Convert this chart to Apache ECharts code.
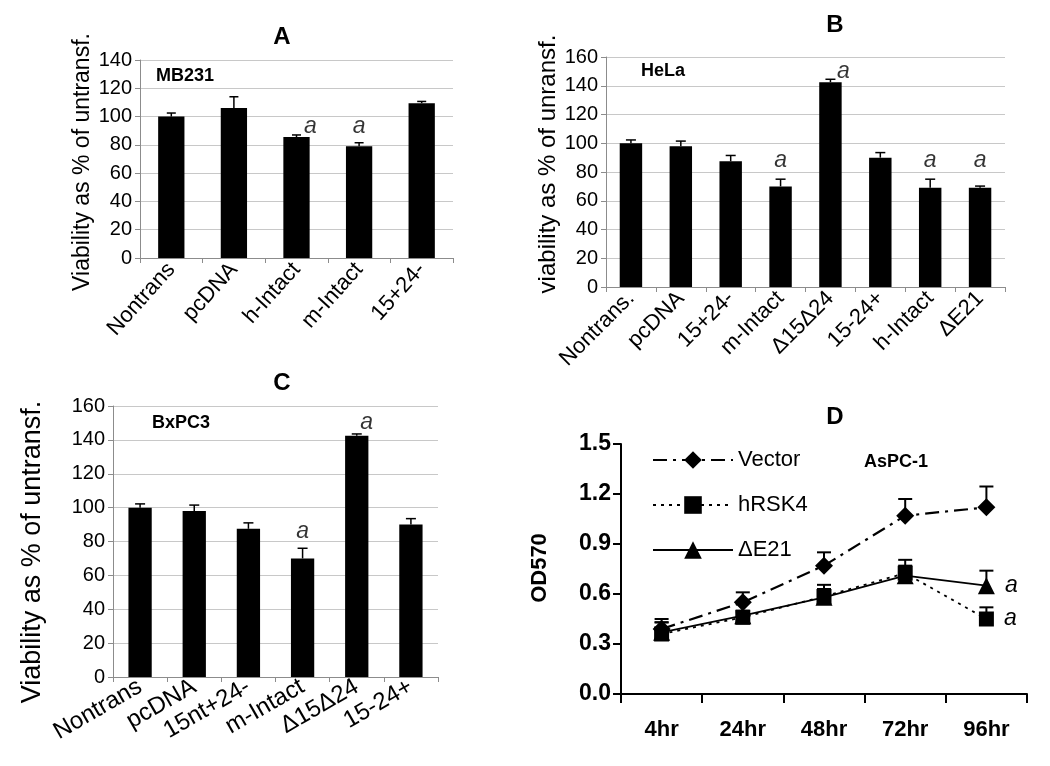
<!DOCTYPE html>
<html>
<head>
<meta charset="utf-8">
<script src="https://cdn.jsdelivr.net/npm/echarts@6/dist/echarts.min.js"></script>
<style>
  html, body { margin: 0; padding: 0; background: #fff; }
  #chart { width: 1050px; height: 766px; }
</style>
</head>
<body>
<div id="chart"></div>
<script>
// panel A - MB231
const catsA = ['Nontrans', 'pcDNA', 'h-Intact', 'm-Intact', '15+24-']
const valsA = [100, 106, 85.5, 79, 109.5]
const errA = [2.5, 8, 1.5, 2.5, 1.2]
// significance marks: [category, height on the y scale]
const sigA = [['h-Intact', 93], ['m-Intact', 93]]

// panel B - HeLa
const catsB = ['Nontrans.', 'pcDNA', '15+24-', 'm-Intact', '\u039415\u039424', '15-24+', 'h-Intact', '\u0394E21']
const valsB = [100, 98, 87.5, 70, 142.5, 90, 69, 69]
const errB = [2.3, 3.5, 4, 5, 2, 3.5, 6, 1.2]
const sigB = [['m-Intact', 88], ['\u039415\u039424', 150], ['h-Intact', 88], ['\u0394E21', 88]]

// panel C - BxPC3
const catsC = ['Nontrans', 'pcDNA', '15nt+24-', 'm-Intact', '\u039415\u039424', '15-24+']
const valsC = [100, 98, 87.5, 70, 142.5, 90]
const errC = [2.2, 3.5, 3.5, 6, 1, 3.5]
const sigC = [['m-Intact', 86], ['\u039415\u039424', 150]]

// panel D - AsPC-1 growth
const hours = ['4hr', '24hr', '48hr', '72hr', '96hr']
const vector = [0.39, 0.55, 0.77, 1.07, 1.12]
const vectorErr = [0.06, 0.06, 0.08, 0.10, 0.125]
const hrsk4 = [0.36, 0.46, 0.585, 0.725, 0.45]
const hrsk4Err = [0.07, 0.03, 0.07, 0.08, 0.07]
const de21 = [0.37, 0.47, 0.58, 0.71, 0.65]
const de21Err = [0.06, 0.03, 0.05, 0.06, 0.09]

const FONT = 'Liberation Sans, Arial, sans-serif'

const chart = echarts.init(document.getElementById('chart'))

function errorBars(capW, lw) {
  return function (params, api) {
    const i = api.value(0)
    const v = api.value(1)
    const e = api.value(2)
    const p0 = api.coord([i, v])
    const p1 = api.coord([i, v + e])
    const st = { stroke: '#000', lineWidth: lw }
    return {
      type: 'group',
      children: [
        { type: 'line', shape: { x1: p0[0], y1: p0[1], x2: p1[0], y2: p1[1] }, style: st },
        { type: 'line', shape: { x1: p1[0] - capW / 2, y1: p1[1], x2: p1[0] + capW / 2, y2: p1[1] }, style: st }
      ]
    }
  }
}

function errData(vals, errs) {
  return vals.map((v, i) => [i, v, errs[i]])
}

// grey excel style category axis
function barX(idx, cats, rotate, size) {
  return {
    type: 'category', gridIndex: idx, data: cats,
    axisLine: { lineStyle: { color: '#8c8c8c' } },
    axisTick: { show: true, length: 5, lineStyle: { color: '#8c8c8c' } },
    axisLabel: { rotate: rotate, color: '#000', fontSize: size, fontFamily: FONT, margin: 8, interval: 0 }
  }
}

function barY(idx, max) {
  return {
    type: 'value', gridIndex: idx, min: 0, max: max, interval: 20,
    axisLine: { show: true, lineStyle: { color: '#8c8c8c' } },
    axisTick: { show: true, length: 5, lineStyle: { color: '#8c8c8c' } },
    axisLabel: { color: '#000', fontSize: 20, fontFamily: FONT, margin: 8 },
    splitLine: { lineStyle: { color: '#c8c8c8' } }
  }
}

function barSeries(idx, vals, gapPct) {
  return {
    type: 'bar', xAxisIndex: idx, yAxisIndex: idx, data: vals,
    barCategoryGap: gapPct, itemStyle: { color: '#000' }, silent: true
  }
}

function errSeries(idx, vals, errs, capW) {
  return {
    type: 'custom', xAxisIndex: idx, yAxisIndex: idx, z: 5,
    renderItem: errorBars(capW, 1.5), data: errData(vals, errs), silent: true
  }
}

// italic "a" marks above the flagged bars
function sigSeries(idx, cats, sig, shifts) {
  return {
    type: 'scatter', xAxisIndex: idx, yAxisIndex: idx, symbolSize: 1,
    itemStyle: { color: 'rgba(0,0,0,0)' }, silent: true, z: 6,
    data: sig.map(s => ({
      value: [cats.indexOf(s[0]), s[1]],
      label: { offset: [shifts[s[0]] || 0, 0] }
    })),
    label: {
      show: true, position: 'inside', formatter: 'a', color: '#000',
      fontSize: 23, fontStyle: 'italic', fontFamily: FONT
    }
  }
}

const lineLabelA = { show: true, position: 'right', distance: 10, formatter: 'a', color: '#000', fontSize: 23, fontStyle: 'italic', fontFamily: FONT }

function growthSeries(name, vals, symbol, size, lineType, lw) {
  return {
    name: name, type: 'line', xAxisIndex: 3, yAxisIndex: 3,
    data: vals.map((v, i) => i === vals.length - 1 && name !== 'Vector'
      ? { value: v, label: lineLabelA } : v),
    symbol: symbol, symbolSize: size, showAllSymbol: true,
    itemStyle: { color: '#000' },
    lineStyle: { color: '#000', width: lw, type: lineType },
    label: { show: false }, silent: true, z: 3
  }
}

function growthErr(vals, errs) {
  return {
    type: 'custom', xAxisIndex: 3, yAxisIndex: 3, z: 2,
    renderItem: errorBars(14, 2), data: errData(vals, errs), silent: true
  }
}

function txt(text, x, y, size, opts) {
  return Object.assign({
    type: 'text', x: x, y: y,
    style: {
      text: text, align: 'center', verticalAlign: 'middle',
      font: (opts && opts.bold ? 'bold ' : '') + size + 'px ' + FONT, fill: '#000'
    }
  }, opts && opts.rot ? { rotation: Math.PI / 2 } : {})
}

const option = {
  backgroundColor: '#fff',
  animation: false,
  textStyle: { fontFamily: FONT },
  grid: [
    { left: 140, top: 60, width: 313, height: 198 },
    { left: 606, top: 57, width: 399, height: 230 },
    { left: 113, top: 406, width: 325, height: 271 },
    { left: 621, top: 444, width: 406, height: 250 }
  ],
  legend: {
    data: ['Vector', 'hRSK4', '\u0394E21'],
    orient: 'vertical', left: 647, top: 444,
    itemWidth: 80, itemHeight: 22, itemGap: 23,
    textStyle: { color: '#000', fontSize: 22, fontFamily: FONT },
    selectedMode: false
  },
  xAxis: [
    barX(0, catsA, 48, 22),
    barX(1, catsB, 45, 22),
    barX(2, catsC, 30, 24),
    {
      type: 'category', gridIndex: 3, data: hours,
      axisLine: { lineStyle: { color: '#000', width: 2 } },
      axisTick: { show: true, length: 9, lineStyle: { color: '#000', width: 2 } },
      axisLabel: { color: '#000', fontSize: 22, fontWeight: 'bold', fontFamily: FONT, margin: 25 }
    }
  ],
  yAxis: [
    barY(0, 140),
    barY(1, 160),
    barY(2, 160),
    {
      type: 'value', gridIndex: 3, min: 0, max: 1.5, interval: 0.3,
      axisLine: { show: true, lineStyle: { color: '#000', width: 2 } },
      axisTick: { show: true, length: 8, lineStyle: { color: '#000', width: 2 } },
      axisLabel: { color: '#000', fontSize: 23, fontWeight: 'bold', fontFamily: FONT, margin: 10,
        formatter: v => v.toFixed(1) },
      splitLine: { show: false }
    }
  ],
  graphic: [
    txt('A', 282, 37, 24, { bold: true }),
    txt('B', 835, 25, 24, { bold: true }),
    txt('C', 282, 383, 24, { bold: true }),
    txt('D', 835, 417, 24, { bold: true }),
    txt('MB231', 185, 76, 18, { bold: true }),
    txt('HeLa', 663, 71, 18, { bold: true }),
    txt('BxPC3', 181, 423, 18, { bold: true }),
    txt('AsPC-1', 896, 462, 18, { bold: true }),
    // y axis titles
    txt('Viability as % of untransf.', 83, 162, 23, { rot: true }),
    txt('viability as % of unransf.', 548, 164, 24, { rot: true }),
    txt('Viability as % of untransf.', 33, 552, 27, { rot: true }),
    txt('OD570', 540, 568, 22, { rot: true, bold: true })
  ],
  series: [
    barSeries(0, valsA, '58%'),
    errSeries(0, valsA, errA, 9),
    sigSeries(0, catsA, sigA, { 'h-Intact': 14 }),
    barSeries(1, valsB, '55%'),
    errSeries(1, valsB, errB, 10),
    sigSeries(1, catsB, sigB, { '\u039415\u039424': 13 }),
    barSeries(2, valsC, '57%'),
    errSeries(2, valsC, errC, 10),
    sigSeries(2, catsC, sigC, { '\u039415\u039424': 10 }),
    growthErr(vector, vectorErr),
    growthErr(de21, de21Err),
    growthErr(hrsk4, hrsk4Err),
    growthSeries('Vector', vector, 'diamond', 18, [14, 6, 3, 6], 2.2),
    growthSeries('\u0394E21', de21, 'triangle', 17, 'solid', 1.8),
    growthSeries('hRSK4', hrsk4, 'rect', 15, [3, 5], 1.8)
  ]
}

chart.setOption(option)
</script>
</body>
</html>
